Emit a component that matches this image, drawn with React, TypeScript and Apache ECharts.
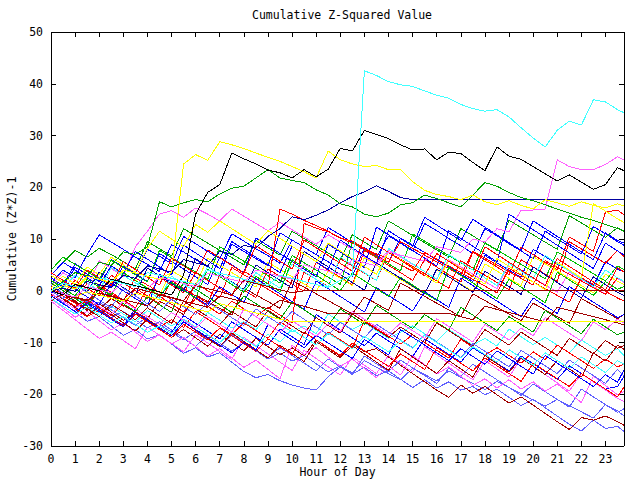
import React, { useEffect, useRef } from "react";
import * as echarts from "echarts";

const hours = [0, 0.5, 1, 1.5, 2, 2.5, 3, 3.5, 4, 4.5, 5, 5.5, 6, 6.5, 7, 7.5, 8, 8.5, 9, 9.5, 10, 10.5, 11, 11.5, 12, 12.5, 13, 13.5, 14, 14.5, 15, 15.5, 16, 16.5, 17, 17.5, 18, 18.5, 19, 19.5, 20, 20.5, 21, 21.5, 22, 22.5, 23, 23.5, 23.77];
const yTicks = [-30, -20, -10, 0, 10, 20, 30, 40, 50];

const cyanHigh = [0, 1.5, 0.8, 0.2, 2.5, 2, 1.4, 0.8, 3.5, 3, 2.4, 1.8, 1.2, 4, 3.4, 2.8, 2.2, 1.6, 1, 3, 2.4, 1.8, 1.2, 0.6, 2, 3, 42.5, 41.6, 40.4, 39.8, 39.5, 38.6, 37.8, 37.2, 36, 35.2, 34.7, 35, 33.6, 31.5, 29.5, 27.8, 31, 32.8, 32, 36.9, 36.5, 35, 34.4];
const blackHigh = [0, -0.8, 1.2, 0.6, 0, 2.2, 1.6, 1, 0.4, -0.2, -0.8, 3, 14.8, 19, 20.5, 26.6, 25.5, 24.5, 23.3, 22.8, 21.8, 23.4, 22, 23.5, 27.5, 27, 31, 30.2, 29.4, 28.2, 27.2, 27.4, 25.3, 26.8, 26.5, 24.8, 23.2, 27.8, 26, 25.4, 24, 22.6, 21.2, 22.4, 21, 19.6, 20.5, 23.8, 23.2];
const yellowHigh = [0, 1, 0.4, 2.8, 2.2, 1.6, 4, 3.4, 2.8, 2.2, 3.5, 24.5, 26.3, 25.2, 28.8, 28.2, 27.5, 26.6, 25.8, 25, 24, 23, 21.8, 27, 25.3, 24.5, 24, 24.2, 23.4, 23.4, 21.1, 19.4, 18.6, 18.2, 17.6, 18.5, 17.2, 16.6, 17.4, 16.5, 15.8, 17.6, 17, 16.3, 17.2, 16.5, 16, 16.8, 16.4];
const greenHigh = [0, 1.8, 3.5, 2.9, 5.5, 4.9, 7.5, 7, 8.5, 17.2, 16.2, 17, 17.6, 17.2, 18.7, 19.8, 20.2, 21.8, 23.4, 21.8, 21.3, 20.9, 19.5, 18.5, 16.8, 16.2, 14.8, 14.3, 15, 16.6, 17, 18.5, 17.8, 17, 16.2, 18.5, 20.9, 20.2, 19, 18, 17.4, 16.6, 15.8, 15, 14.2, 13.6, 12.8, 12, 11.6];
const darkBlueFlat = [0, 0.5, -0.1, 1.8, 1.2, 0.6, 3, 2.4, 4.8, 4.2, 3.6, 6, 5.4, 4.8, 7.6, 7, 8.8, 8.2, 10.5, 12, 14.3, 13.7, 14.6, 15.6, 17, 18.2, 19.1, 20.3, 19.2, 18, 17.6, 17.6, 17.6, 17.6, 17.6, 17.6, 17.6, 17.6, 17.6, 17.6, 17.6, 17.6, 17.6, 17.6, 17.6, 17.6, 17.6, 17.6, 17.6];
const magentaLate = [0, -0.6, -1.2, 0.8, 0.2, -0.4, 1.6, 1, 0.4, 2.6, 2, 1.4, 0.8, 3.4, 2.8, 2.2, 1.6, 4, 3.4, 2.8, 2.2, 5, 4.4, 3.8, 3.2, 6, 5.4, 4.8, 7.5, 6.9, 6.3, 5.7, 8.5, 8, 7.4, 10, 9.4, 12, 11.4, 15.6, 15.6, 15.8, 25.3, 24, 23.4, 23.4, 24.4, 25.9, 25.3];
const darkRedFlat0 = [0, -0.6, -1.2, -1.8, -0.5, -1.1, -1.7, 0.5, -0.1, -0.7, -1.3, -1.9, 1, 0.4, -0.2, -0.8, 2, 1.4, 0.8, 0.2, -0.4, 0, 0, 0, 0, 0, 0, 0, 0, 0, 0, 0, 0, 0, 0, 0, 0, 0, 0, 0, 0, 0, 0, 0, 0, 0, 0, 0, 0];
const darkRedFlat4 = [0, -0.7, -1.3, -2, -0.4, -1, -1.7, -2.3, -2.9, -0.8, -1.4, -2, -2.6, -3.2, -1, -1.6, -2.2, -2.9, -3.5, -1.8, -2.4, -3, -3.7, -4.4, -4.4, -4.4, -4.4, -4.4, -4.4, -4.4, -4.4, -4.4, -4.4, -4.4, -5, -5.6, -3, -3.6, -4.2, -4.8, -5.4, -6, -3.2, -3.8, -4.4, -5, -5.6, -6.2, -6.6];
const yellowFlat6 = [0, -0.6, -1.2, -0.2, -0.8, -1.4, -2, -0.5, -1.1, -1.7, -2.3, -2.9, -3.5, -4.1, -2.5, -3.1, -3.7, -4.3, -4.9, -5.5, -6, -6, -6, -6, -6, -6, -6, -6, -6, -6, -6, -6, -6, -6, -6, -6, -6, -6, -6, -6, -6, -6, -6, -6, -6, -6, -6, -6, -6];

const b01 = [2, 0.8, 4.5, 3.2, 1.8, 6, 4.6, 3.3, 8, 6.7, 5.2, 10.5, 9.1, 7.6, 6.2, 11, 9.6, 8.1, 6.8, 5.3, 9.8, 8.4, 7, 12.2, 10.8, 9.3, 7.9, 6.4, 10.6, 9.2, 7.7, 13, 11.6, 10.1, 8.7, 7.2, 12, 10.6, 9.1, 7.7, 6.2, 11.5, 10, 8.6, 7.1, 12.4, 11, 9.5, 8.8];
const b02 = [1, -0.5, -2, 1.5, 0, -1.5, -3, 0.5, -1, -2.5, 2, 0.5, -1, -2.4, 3, 1.6, 0.1, -1.3, 4.2, 2.8, 1.3, -0.1, 5.5, 4, 2.6, 1.1, 7.8, 6.4, 4.9, 3.5, 2, 6, 4.6, 3.1, 1.7, 7.5, 6, 4.6, 3.1, 8.4, 7, 5.5, 4.1, 10.4, 9, 7.6, 15.2, 15.6, 14.7];
const b03 = [3, 5.5, 7.8, 6.5, 8.2, 7, 5.6, 4.2, 9.5, 8.1, 6.7, 12, 10.6, 9.2, 7.8, 6.4, 5, 9.7, 8.3, 6.9, 11.5, 10.1, 8.7, 7.3, 5.9, 10.8, 9.4, 8, 13.5, 12.1, 10.7, 9.3, 7.9, 6.5, 12, 10.6, 9.2, 7.8, 13.6, 12.2, 10.8, 9.4, 8, 14.5, 13.1, 11.7, 10.3, 12.2, 11.4];
const b04 = [1.5, 4, 2.6, 7, 10.8, 9.4, 8, 6.5, 5.1, 3.7, 8.9, 7.5, 6, 4.6, 3.2, 9, 7.6, 6.2, 4.8, 11.2, 9.8, 8.4, 7, 5.6, 4.2, 2.8, 8.3, 6.9, 5.5, 10.2, 8.8, 7.4, 6, 4.6, 3.2, 1.8, 6.8, 5.4, 4, 2.6, 8, 6.6, 5.2, 3.8, 2.4, 1, 5.6, 4.2, 3.6];
const b05 = [0.5, -1, -2.4, -3.8, 0.8, -0.6, -2, 2.5, 1.1, -0.3, -1.7, -3.1, 1.4, 0, -1.4, 4.5, 3.1, 1.7, 0.3, -1.1, -2.5, 3.6, 2.2, 0.8, 6.2, 4.8, 3.4, 2, 7.5, 6.1, 4.7, 3.3, 1.9, 0.5, 5.8, 4.4, 3, 1.6, 0.2, 6, 4.6, 3.2, 1.8, 9.5, 8.1, 6.7, 5.3, 7.8, 6.6];
const b06 = [-1, -2.4, -1, -2.3, -3.6, -1.5, -2.8, -4.1, -5.4, -2, -3.3, -4.6, -0.8, -2.1, -3.4, -4.7, 0.5, -0.8, -2.1, -3.4, 2, 0.7, -0.6, -1.9, -3.2, -4.5, -1.2, -2.5, -3.8, 1.5, 0.2, -1.1, -2.4, -3.7, -5, -0.6, -1.9, -3.2, -4.5, -5.8, -2.4, -3.7, -5, -6.3, -1.5, -2.8, -4.1, -5.4, -4.6];
const b07 = [-2, -3.8, -5.6, -7.4, -9.2, -8, -9.6, -11.2, -7, -8.6, -10.2, -11.8, -8.5, -10.1, -11.7, -13.3, -9, -10.6, -12.2, -13.8, -15.4, -11.5, -13.1, -14.7, -16.3, -12.8, -14.4, -16, -12.5, -14.1, -15.7, -10.8, -12.4, -14, -15.6, -17.2, -13.5, -15.1, -16.7, -13, -14.6, -16.2, -17.8, -19.4, -16, -17.6, -19.2, -20.8, -21.4];
const b08 = [-0.5, -2.3, -4.1, -5.9, -5, -6.8, -8.6, -7.5, -9.3, -8.5, -10.3, -12.1, -11, -12.8, -12, -13.8, -15.6, -16.8, -16.2, -17.4, -18.2, -18.8, -19.2, -16.6, -14.7, -15.8, -13.5, -14.8, -16, -17.2, -15, -16.2, -17.4, -15.5, -16.7, -17.9, -19.1, -17.5, -18.7, -19.9, -21.1, -22.3, -21, -22.2, -23.4, -24.6, -22, -23.2, -24.2];
const b09 = [0, -1.6, -3.2, -2, -3.6, -5.2, -4, -5.6, -7.2, -6, -7.6, -9.2, -10.8, -8.5, -10.1, -11.7, -10, -11.6, -13.2, -12, -13.6, -12.5, -14.1, -15.7, -14.5, -16.1, -14.8, -16.4, -15.5, -17.1, -18.7, -17.2, -18.8, -17.6, -19.2, -18.5, -20.1, -19, -20.6, -22.2, -21, -22.6, -24.2, -25.8, -27.1, -25, -26.6, -26.2, -27.2];
const b10 = [1, -0.6, -2.2, -3.8, -2.5, -4.1, -5.7, -4.2, -5.8, -7.4, -9, -7.5, -9.1, -10.7, -8.4, -10, -11.6, -9.2, -10.8, -12.4, -11, -12.6, -9.5, -11.1, -12.7, -10.2, -11.8, -11.2, -12.8, -14.4, -16, -17.6, -19.2, -20.6, -18.2, -19.8, -18.5, -20.1, -21.7, -20.5, -22.1, -23.7, -25.3, -26.8, -24.5, -25, -24.2, -25.3, -26];
const b11 = [2.5, 1, 5.2, 3.7, 2.2, 0.7, 4.8, 3.3, 1.8, 7.2, 5.7, 4.2, 2.7, 1.2, 6.5, 5, 3.5, 10.2, 8.7, 7.2, 5.7, 4.2, 2.7, 9, 7.5, 6, 4.5, 12.3, 10.8, 9.3, 7.8, 6.3, 4.8, 11.6, 10.1, 8.6, 7.1, 5.6, 14.8, 13.3, 11.8, 10.3, 8.8, 7.3, 5.8, 4.3, 9.2, 7.7, 6.9];
const b12 = [-1, -2.5, -1.2, -2.7, -4.2, -3, -4.5, -6, -3.8, -5.3, -6.8, -5.5, -7, -4.2, -5.7, -7.2, -6, -7.5, -5, -6.5, -8, -6.8, -8.3, -4.5, -6, -7.5, -6.2, -7.7, -9.2, -8, -6.8, -8.3, -9.8, -7.5, -9, -10.5, -9.2, -10.7, -7.4, -8.9, -10.4, -9, -10.5, -12, -9.5, -11, -12.5, -11.2, -12.5];
const b13 = [3, 1.6, 0.2, 2.5, 1.1, 4.8, 3.4, 2, 0.6, -0.8, 3.9, 2.5, 1.1, 6.3, 4.9, 3.5, 2.1, 0.7, 5.5, 4.1, 2.7, 1.3, -0.1, 3.8, 2.4, 1, 6.4, 5, 3.6, 2.2, 0.8, -0.6, 4.1, 2.7, 1.3, -0.1, 5.2, 3.8, 2.4, 1, 6.6, 5.2, 3.8, 2.4, 1, -0.4, 3.2, 1.8, 1.2];
const b14 = [0, -1.5, -3, -1.8, -3.3, -4.8, -2.5, -4, -5.5, -7, -5.6, -7.1, -4, -5.5, -7, -8.5, -6.2, -7.7, -9.2, -6, -7.5, -9, -10.5, -8, -9.5, -11, -5.8, -7.3, -8.8, -10.3, -8.5, -10, -11.5, -13, -9.4, -10.9, -12.4, -11, -12.5, -14, -11.8, -13.3, -10.5, -12, -13.5, -15, -13.2, -14.7, -14.2];
const b15 = [4, 6.5, 5.1, 3.7, 2.3, 5.9, 4.5, 3.1, 1.7, 7.8, 6.4, 5, 3.6, 2.2, 8.5, 7.1, 5.7, 4.3, 2.9, 1.5, 6.8, 5.4, 4, 2.6, 1.2, 9.4, 8, 6.6, 5.2, 3.8, 11, 9.6, 8.2, 6.8, 5.4, 4, 9.3, 7.9, 6.5, 5.1, 3.7, 2.3, 7.5, 6.1, 4.7, 3.3, 1.9, 4.8, 4.1];
const b16 = [1, 3.5, 2, 0.5, 5.8, 4.3, 2.8, 8.5, 11.5, 14.8, 15.5, 14.2, 16, 14.8, 13.5, 15.8, 14.4, 13, 11.6, 13.2, 11.8, 10.4, 9, 10.8, 9.4, 8, 6.6, 5.2, 7.9, 6.5, 5.1, 3.7, 2.3, 6, 4.6, 3.2, 1.8, 0.4, 5.3, 3.9, 2.5, 1.1, -0.3, 3.6, 2.2, 0.8, -0.6, 2.4, 1.6];
const b17 = [-1.5, -3, -4.5, -2.2, -3.7, -5.2, -6.7, -3.5, -5, -6.5, -8, -4.8, -6.3, -7.8, -9.3, -6, -7.5, -9, -10.5, -7.4, -8.9, -10.4, -4.6, -6.1, -7.6, -9.1, -10.6, -8.2, -9.7, -11.2, -12.7, -9.3, -10.8, -12.3, -13.8, -11, -12.5, -14, -15.5, -12.6, -14.1, -15.6, -17.1, -14.5, -16, -17.5, -19, -18.5, -16.6];
const b18 = [0.5, 2.8, 1.3, -0.2, 3.6, 2.1, 0.6, -0.9, 4.4, 2.9, 1.4, -0.1, 6.2, 4.7, 3.2, 1.7, 0.2, 5, 3.5, 2, 0.5, 7.6, 6.1, 4.6, 3.1, 1.6, 0.1, 5.4, 3.9, 2.4, 0.9, -0.6, 4.2, 2.7, 1.2, -0.3, 3.8, 2.3, 0.8, -0.7, 4.6, 3.1, 1.6, 0.1, -1.4, 2.7, 1.2, -0.3, -0.9];
const b19 = [1, -0.5, 2, 0.5, -1, 3, 1.5, 0, -1.5, 2.6, 1.1, -0.4, 3.5, 2, 0.5, -1, 3.8, 2.3, 0.8, 15.8, 14.8, 13.6, 12.6, 11.5, 10.2, 9.2, 8, 6.8, 5.5, 9.5, 8.2, 6.9, 5.6, 4.3, 3, 7.6, 6.3, 5, 3.7, 2.4, 1.1, 5.8, 4.5, 3.2, 1.9, 0.6, -0.7, 2.5, 1.8];
const b20 = [-1, 0.5, -1, -2.5, 1.2, -0.3, -1.8, -3.3, 0.4, -1.1, -2.6, -4.1, -1.5, -3, -4.5, -2, -3.5, -5, -3.2, -4.7, -6.2, 13, 12.1, 11.4, 10.2, 9.6, 8.2, 7.1, 6.2, 5, 3.8, 7.4, 6.1, 4.8, 3.5, 2.2, 0.9, -0.4, 4.3, 3, 1.7, 0.4, -0.9, -2.2, 2.5, 1.2, -0.1, -1.4, -2];
const b21 = [1, -0.5, -2, -3.5, -2.2, -3.7, -5.2, -6.7, -5, -6.5, -8, -9.5, -7.8, -9.3, -10.8, -8.5, -10, -11.5, -13, -11, -12.5, -14, -15.5, -13.2, -14.7, -16.2, -12.6, -14.1, -15.6, -13.4, -14.9, -16.4, -17.9, -15, -16.5, -14.2, -15.7, -17.2, -18.7, -20.2, -18, -19.5, -21, -22.5, -19, -20.5, -22, -23.5, -22.8];
const b22 = [-1.5, -3.3, -5.1, -4, -5.8, -7.6, -6.2, -8, -9.8, -8.5, -10.3, -9, -10.8, -12.6, -11.2, -13, -14.8, -13.4, -15.2, -17, -10.5, -12.3, -11, -12.8, -14.6, -13.2, -15, -16.8, -14.5, -16.3, -12.5, -14.3, -16.1, -14.7, -16.5, -18.3, -17, -18.8, -17.2, -19, -17.6, -19.4, -18, -19.8, -21.6, -16.5, -18.3, -20.1, -19.5];
const b23 = [-0.5, 1.8, 0.3, -1.2, -2.7, 1.5, 0, -1.5, -3, 3.2, 1.7, 0.2, -1.3, -2.8, 0.8, -0.7, -2.2, 2.4, 0.9, -0.6, -2.1, -3.6, 1.9, 0.4, -1.1, -2.6, -4.1, 0.6, -0.9, -2.4, -3.9, -0.2, -1.7, -3.2, 2.5, 1, -0.5, -2, -3.5, -5, -1.4, -2.9, -4.4, 0.8, -0.7, -2.2, -3.7, -5.2, -4.6];
const b24 = [0, -1.6, -3.2, -4.8, -3, -4.6, -6.2, -7.8, -5.5, -7.1, -8.7, -6, -7.6, -9.2, -10.8, -8.2, -9.8, -11.4, -13, -10.5, -12.1, -13.7, -9.8, -11.4, -13, -10.6, -12.2, -13.8, -15.4, -11.2, -12.8, -14.4, -16, -13.5, -15.1, -16.7, -12.5, -14.1, -15.7, -13, -14.6, -16.2, -13.5, -15.1, -16.7, -12, -13.6, -10.5, -11.3];
const b25 = [2, 0.5, 3, 1.5, 0, 4.5, 3, 1.5, 0, -1.5, 2.8, 1.3, -0.2, 4.6, 3.1, 1.6, 0.1, 3.5, 2, 0.5, 5.2, 3.7, 2.2, 0.7, 6.5, 5, 3.5, 2, 8.2, 6.7, 5.2, 3.7, 2.2, 7, 5.5, 4, 2.5, 1, 5.3, 3.8, 2.3, 6.8, 5.3, 3.8, 2.3, 0.8, 4, 2.5, 1.8];
const b26 = [1.5, 0, -1.5, -3, 0.5, -1, -2.5, -4, -1.2, -2.7, -4.2, 1.8, 0.3, -1.2, -2.7, -4.2, -1, -2.5, -4, -5.5, -2.2, -3.7, -5.2, -6.7, -3.5, -5, -6.5, -2.8, -4.3, -5.8, -7.3, -4.6, -6.1, -7.6, -3.2, -4.7, -6.2, -7.7, -5, -6.5, -8, -3.8, -5.3, -6.8, -8.3, -5.5, -7, -8.5, -8];
const b27 = [3, 5.5, 4, 2.5, 1, 4.8, 3.3, 7.6, 6.1, 4.6, 3.1, 8.8, 7.3, 5.8, 4.3, 9.5, 8, 6.5, 5, 3.5, 8.6, 7.1, 5.6, 4.1, 9.8, 8.3, 6.8, 5.3, 11.6, 10.1, 8.6, 14.2, 12.7, 11.2, 9.7, 13.8, 12.3, 10.8, 9.3, 7.8, 13.5, 12, 10.5, 9, 7.5, 6, 11.2, 9.7, 9.2];
const b28 = [-0.5, -2, -3.5, -5, -3.8, -5.3, -6.8, -4.5, -6, -7.5, -9, -6.5, -8, -9.5, -7.2, -8.7, -10.2, -11.7, -9.3, -10.8, -12.3, -8, -9.5, -11, -12.5, -10.1, -11.6, -13.1, -14.6, -12.2, -13.7, -15.2, -11, -12.5, -14, -15.5, -13, -14.5, -16, -17.5, -14, -15.5, -17, -18.5, -16, -17.5, -19, -20.5, -18.6];
const b29 = [0.5, 2.8, 1.3, 4.6, 3.1, 6.5, 5, 3.5, 8.2, 11.5, 10, 8.5, 12.8, 11.3, 13.5, 12, 10.5, 9, 11.6, 10.1, 8.6, 7.1, 5.6, 9.2, 7.7, 6.2, 4.7, 3.2, 7.5, 6, 4.5, 3, 1.5, 5.8, 4.3, 2.8, 1.3, 6.2, 4.7, 3.2, 1.7, 0.2, 5.5, 4, 2.5, 16.8, 15.4, 13.9, 13.2];
const b30 = [-2, -0.5, -2, -3.5, -5, -2.6, -4.1, -5.6, -3.3, -4.8, -6.3, -2, -3.5, -5, -6.5, -4, -5.5, -7, -3.8, -5.3, -6.8, -8.3, -5.2, -6.7, -8.2, -4.5, -6, -7.5, -9, -7, -8.5, -10, -6.2, -7.7, -9.2, -10.7, -7.5, -9, -10.5, -8, -9.5, -11, -12.5, -9.2, -10.7, -12.2, -9.6, -11.1, -10.6];
const b31 = [0, -1.5, 1.2, -0.3, -1.8, -3.3, 0.5, -1, -2.5, -4, -1.6, -3.1, -4.6, -2.2, -3.7, -5.2, -6.7, -3.5, -5, -6.5, -4, -5.5, -7, -8.5, -6.1, -7.6, -9.1, -6.5, -8, -9.5, -11, -8.4, -9.9, -11.4, -12.9, -10.2, -11.7, -13.2, -14.7, -11.5, -13, -14.5, -16, -13.4, -14.9, -16.4, -17.9, -15.2, -16.5];
const b32 = [2, 0.5, -1, 2.2, 0.7, -0.8, 3.5, 2, 0.5, -1, 1.6, 0.1, -1.4, 4.2, 2.7, 1.2, -0.3, 2.8, 1.3, -0.2, 6, 4.5, 3, 1.5, 0, 3.4, 1.9, 0.4, -1.1, 2.6, 1.1, -0.4, -1.9, 4.5, 3, 1.5, 0, -1.5, 2.2, 0.7, -0.8, -2.3, 3.6, 2.1, 0.6, -0.9, 1.8, 0.3, 0.8];
const b33 = [-1, -2.5, -4, -2.5, -4, -5.5, -7, -4.2, -5.7, -7.2, -8.7, -6, -7.5, -9, -10.5, -12, -10, -11.5, -6.5, -8, -9.5, -11, -8.6, -10.1, -11.6, -13.1, -9.4, -10.9, -12.4, -7.5, -9, -10.5, -12, -13.5, -11.2, -12.7, -14.2, -11.6, -13.1, -14.6, -16.1, -12.5, -14, -15.5, -17, -18.5, -16.2, -17.7, -15.3];
const b34 = [-1.5, -3, -4.5, -3.2, -4.7, -6.2, -5, -6.5, -8, -6.8, -8.3, -5.5, -7, -8.5, -10, -7.8, -9.3, -10.8, -8.4, -9.9, -7.5, -9, -10.5, -8.2, -9.7, -11.2, -8.8, -10.3, -11.8, -9.6, -11.1, -8.5, -10, -11.5, -13, -10.8, -12.3, -13.8, -11.4, -12.9, -14.4, -12, -13.5, -15, -12.8, -14.3, -15.8, -13.5, -14.2];
const b35 = [3.5, 2, 0.5, 4, 2.5, 1, 5.6, 4.1, 2.6, 1.1, 6.3, 4.8, 3.3, 7.9, 6.4, 4.9, 3.4, 8.7, 7.2, 5.7, 4.2, 9.8, 8.3, 6.8, 5.3, 3.8, 10.4, 8.9, 7.4, 5.9, 4.4, 2.9, 7.2, 5.7, 4.2, 2.7, 8.5, 7, 5.5, 4, 2.5, 1, 6.2, 4.7, 3.2, 1.7, 0.2, 4.5, 3.6];
const b36 = [-0.5, -2, -3.5, -1.5, -3, -4.5, -2, -3.5, -5, -6.5, -4.2, -5.7, -7.2, -5, -6.5, -8, -3.5, -5, -6.5, -8, -5.8, -7.3, -8.8, -6.4, -7.9, -4, -5.5, -7, -8.5, -6.2, -7.7, -9.2, -5.4, -6.9, -8.4, -9.9, -6.5, -8, -9.5, -7.2, -8.7, -5.2, -6.7, -8.2, -9.7, -6, -7.5, -5.5, -6.2];

const RED = "#ff0000";
const DRED = "#a00000";
const GRN = "#00c000";
const DGRN = "#00a000";
const BLU = "#0000ff";
const DBLU = "#0000a0";
const LBLU = "#6060ff";
const MAG = "#ff60ff";
const CYN = "#40ffff";
const YEL = "#ffff00";
const BLK = "#000000";

const LINES: [number[], string][] = [
  [b01, BLU], [b02, RED], [b03, DGRN], [b04, BLU], [b05, RED], [b06, DRED],
  [b07, MAG], [b08, LBLU], [b09, LBLU], [b10, DRED], [b11, BLU], [b12, CYN],
  [b13, YEL], [b14, RED], [b15, GRN], [b16, MAG], [b17, BLU], [b18, DBLU],
  [b19, RED], [b20, RED], [b21, LBLU], [b22, MAG], [b23, BLU], [b24, DRED],
  [b25, CYN], [b26, DGRN], [b27, BLU], [b28, RED], [b29, YEL], [b30, DRED],
  [b31, LBLU], [b32, GRN], [b33, BLU], [b34, CYN], [b35, RED], [b36, MAG],
  [darkRedFlat0, DRED], [darkRedFlat4, DRED], [yellowFlat6, YEL],
  [magentaLate, MAG], [darkBlueFlat, DBLU], [greenHigh, DGRN],
  [yellowHigh, YEL], [blackHigh, BLK], [cyanHigh, CYN],
];

const FONT = "'DejaVu Sans Mono', monospace";
const FS = 11.5;

export default function App() {
  const ref = useRef<HTMLDivElement>(null);
  useEffect(() => {
    if (!ref.current) return;
    const chart = echarts.init(ref.current, null, { renderer: "svg" });
    const series = LINES.map(([vals, color], i) => ({
      type: "line",
      name: "g" + i,
      data: vals.slice(0, hours.length).map((v, j) => [hours[j], v]),
      symbol: "none",
      showSymbol: false,
      silent: true,
      clip: true,
      lineStyle: { color, width: 1 },
      itemStyle: { color },
    }));
    const axisCommon = {
      axisLine: { show: true, onZero: false, lineStyle: { color: "#000", width: 1 } },
      axisTick: { show: true, inside: true, length: 5, lineStyle: { color: "#000", width: 1 } },
      splitLine: { show: false },
    };
    chart.setOption({
      animation: false,
      title: {
        text: "Cumulative Z-Squared Value",
        left: 337,
        top: 4,
        textAlign: "center",
        textStyle: { fontFamily: FONT, fontSize: FS, fontWeight: "normal", color: "#000" },
      },
      grid: { left: 51, right: 16, top: 32, bottom: 34, containLabel: false, outerBoundsMode: "none" },
      xAxis: [
        {
          type: "value", min: 0, max: 23.77, interval: 1, position: "bottom",
          name: "Hour of Day", nameLocation: "middle", nameGap: 20, nameMoveOverlap: false,
          nameTextStyle: { fontFamily: FONT, fontSize: FS, color: "#000" },
          axisLabel: {
            margin: 7, color: "#000", fontFamily: FONT, fontSize: FS,
            formatter: (v: number) => (Math.abs(v - Math.round(v)) < 1e-6 ? String(Math.round(v)) : ""),
          },
          ...axisCommon,
        },
        {
          type: "value", min: 0, max: 23.77, interval: 1, position: "top",
          axisLabel: { show: false },
          ...axisCommon,
        },
      ],
      yAxis: [
        {
          type: "value", min: yTicks[0], max: yTicks[yTicks.length - 1], interval: 10, position: "left",
          name: "Cumulative (Z*Z)-1", nameLocation: "middle", nameGap: 33, nameMoveOverlap: false,
          nameTextStyle: { fontFamily: FONT, fontSize: FS, color: "#000" },
          axisLabel: { margin: 8, color: "#000", fontFamily: FONT, fontSize: FS },
          ...axisCommon,
        },
        {
          type: "value", min: yTicks[0], max: yTicks[yTicks.length - 1], interval: 10, position: "right",
          axisLabel: { show: false },
          ...axisCommon,
        },
      ],
      series,
    });
    return () => chart.dispose();
  }, []);
  return (
    <>
      <style>{`.zchart svg path { shape-rendering: crispEdges; }`}</style>
      <div
        ref={ref}
        className="zchart"
        style={{ position: "fixed", left: 0, top: 0, width: 640, height: 480, background: "#fff" }}
      />
    </>
  );
}
